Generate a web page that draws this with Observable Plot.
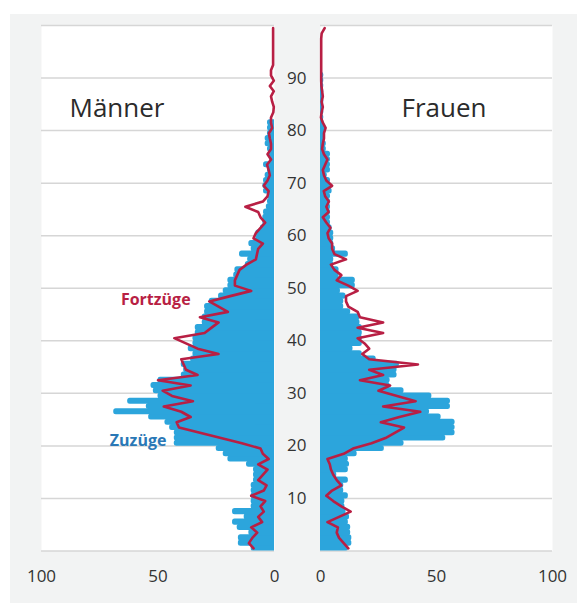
<!DOCTYPE html>
<html><head><meta charset="utf-8">
<script src="https://cdn.jsdelivr.net/npm/d3@7"></script>
<script src="https://cdn.jsdelivr.net/npm/@observablehq/plot@0.6"></script>
<style>
html,body{margin:0;padding:0;background:#fff;}
#wrap{position:relative;width:577px;height:603px;overflow:hidden;}
#bg{position:absolute;left:10px;top:14px;right:0;bottom:0;background:#f2f3f3;}
#left{position:absolute;left:0;top:0;}
#right{position:absolute;left:280px;top:0;}
</style></head>
<body><div id="wrap"><div id="bg"></div><div id="left"></div><div id="right"></div></div>
<script>
// Alter 0..99 (index = Alter)
const zuzuegeMaenner = [
  10, 15.5, 15.5, 11, 16, 18, 13, 18, 10, 10,
  10, 10, 10, 9, 9, 9, 12, 20, 22, 25,
  43, 43, 43, 45, 47, 54, 69, 55, 63, 50,
  52, 53, 50, 40, 39, 40, 36, 35, 37, 35,
  35, 34, 34, 31, 31, 30, 30, 28, 24, 22,
  20, 20, 17.5, 17, 12.5, 11.5, 15, 10, 11, 8,
  8, 6, 5, 5, 4.7, 3.5, 3, 3, 4.7, 5,
  4.7, 4, 3, 4.7, 2, 2.5, 3, 4, 4, 3,
  3, 3, 0, 0, 0, 0, 0, 0, 0, 0,
  0, 0, 0, 0, 0, 0, 0, 0, 0, 0
];
const fortzuegeMaenner = [
  9, 11, 9.5, 7.4, 10, 5.3, 7, 4.6, 6, 4,
  10, 4.6, 3.4, 7, 5, 3, 7, 2.5, 5, 6,
  14, 23, 32, 41, 42, 36, 40, 47.5, 35, 44,
  48, 36, 50, 33, 38, 39, 40, 24, 33, 38,
  43, 30, 27, 24, 32, 20, 24, 28, 19, 10,
  17, 17, 16, 15, 12, 8, 7.5, 7, 5, 9,
  8, 6, 4, 6, 7, 12.5, 5, 3, 2.5, 4.6,
  3, 2, 2.5, 3.2, 1.5, 3, 1.5, 1.5, 2, 2.4,
  1, 1.5, 1.5, 0.5, 0.3, 1, 1.5, 0.3, 2, 0.3,
  1.5, 1.5, 0.6, 0.6, 0.6, 0.6, 0.6, 0.6, 0.6, 0.6
];
const zuzuegeFrauen = [
  12, 13.5, 13.5, 13, 13, 12, 12.5, 11, 10.5, 10.5,
  12, 10, 10, 12, 7, 12, 12.5, 12, 15.8, 27.5,
  36, 54, 58, 58, 58, 52, 47, 56, 56, 48,
  36, 30, 30, 33, 33, 34, 24, 18, 14, 18,
  18, 18, 18, 17, 17, 13, 10, 10, 11, 8.6,
  15, 15, 8, 8, 5.7, 5.7, 12, 6.5, 5.7, 5.7,
  5.7, 5, 4.3, 4.3, 4.3, 4.3, 4.3, 4.3, 5, 4.3,
  4.3, 2.9, 4.3, 4.3, 4.3, 4.3, 2.5, 2.5, 2, 2,
  2.2, 1.5, 1.4, 1.4, 1.4, 1.4, 1.4, 1.4, 1.4, 1.4,
  1.4, 0, 0, 0, 0, 0, 0, 0, 0, 0
];
const fortzuegeFrauen = [
  12, 10, 8, 7, 7.5, 3, 8, 13, 9, 5.5,
  2.5, 5, 9, 7, 5.5, 4.5, 4, 3, 10, 14,
  22, 28, 32, 36, 26, 34, 43, 27, 41, 33,
  25, 30, 17, 27, 21, 42, 21, 18, 21, 19,
  16, 27, 16, 27, 17, 16, 12, 11, 11, 16,
  12, 7, 9, 6, 4.5, 11, 6, 5, 5, 3.5,
  3, 4.3, 2.5, 1, 3.5, 2.5, 3.6, 2, 1.4, 5,
  2.5, 1.5, 1, 2, 3, 1.5, 0.7, 1, 1.5, 1.5,
  2.2, 1, 0.2, 0.5, 1, 0.5, 1, 0.7, 0.4, 0.3,
  0.3, 0.3, 0.3, 0.3, 0.3, 0.3, 0.3, 0.3, 0.5, 1.8
];
const xTicks = [0, 50, 100];
const ageTicks = [10, 20, 30, 40, 50, 60, 70, 80, 90];
const gridAges = [0, 10, 20, 30, 40, 50, 60, 70, 80, 90, 100];
const panelTitles = ["Männer", "Frauen"];
const seriesLabels = ["Fortzüge", "Zuzüge"];
// label anchor positions (value, age) for the annotations in the Männer panel
const labelPos = [[36, 47.7], [46.4, 21]];

const FONT = "'Open Sans', 'DejaVu Sans', sans-serif";
const BLUE = "#2ca5dc", RED = "#b81f44", LABELBLUE = "#2a78b6", TXT = "#2b2b2b";

function rows(values) { return values.map((v, i) => ({age: i, v})); }

function panel({bars, line, reverse, width, ml, mr, title, titleDx, showAges, extra}) {
  return Plot.plot({
    width, height: 603,
    marginLeft: ml, marginRight: mr, marginTop: 25, marginBottom: 52.5,
    style: {fontFamily: FONT, fontSize: "17px", color: "#333", background: "transparent", overflow: "visible"},
    x: {domain: [0, 100], reverse, ticks: xTicks, tickSize: 0, tickPadding: 19, label: null, tickFormat: d => String(d)},
    y: {domain: [0, 100], label: null, axis: showAges ? "left" : null, ticks: ageTicks, tickSize: 0, tickPadding: 14, tickFormat: d => String(d)},
    marks: [
      Plot.frame({fill: "white", stroke: "none"}),
      Plot.ruleY(gridAges, {stroke: "#d6d6d6", strokeWidth: 1.5}),
      Plot.rect(rows(bars).filter(d => d.v > 0), {
        x1: -5, x2: "v", y1: "age", y2: d => d.age + 1,
        insetTop: -0.45, insetBottom: -0.45,
        fill: BLUE, rx: 2.5, clip: true
      }),
      Plot.line(rows(line), {
        x: "v", y: d => d.age + 0.5, stroke: RED, strokeWidth: 2.6,
        strokeLinejoin: "round", strokeLinecap: "round"
      }),
      Plot.text([title], {
        frameAnchor: "top-left", dx: titleDx, dy: 83.5,
        textAnchor: "start", lineAnchor: "middle",
        fontSize: 26, fill: TXT, text: d => d
      }),
      ...(extra || [])
    ]
  });
}

const left = panel({
  bars: zuzuegeMaenner, line: fortzuegeMaenner, reverse: true,
  width: 280, ml: 41, mr: 6, title: panelTitles[0], titleDx: 28, showAges: false,
  extra: [
    Plot.text([0, 1], {
      x: i => labelPos[i][0], y: i => labelPos[i][1], text: i => seriesLabels[i],
      fill: i => (i === 0 ? RED : LABELBLUE), textAnchor: "end", lineAnchor: "middle",
      fontSize: 16, fontWeight: "bold"
    })
  ]
});
const right = panel({
  bars: zuzuegeFrauen, line: fortzuegeFrauen, reverse: false,
  width: 297, ml: 40, mr: 25, title: panelTitles[1], titleDx: 81, showAges: true
});
document.getElementById("left").append(left);
document.getElementById("right").append(right);
</script>
</body></html>
